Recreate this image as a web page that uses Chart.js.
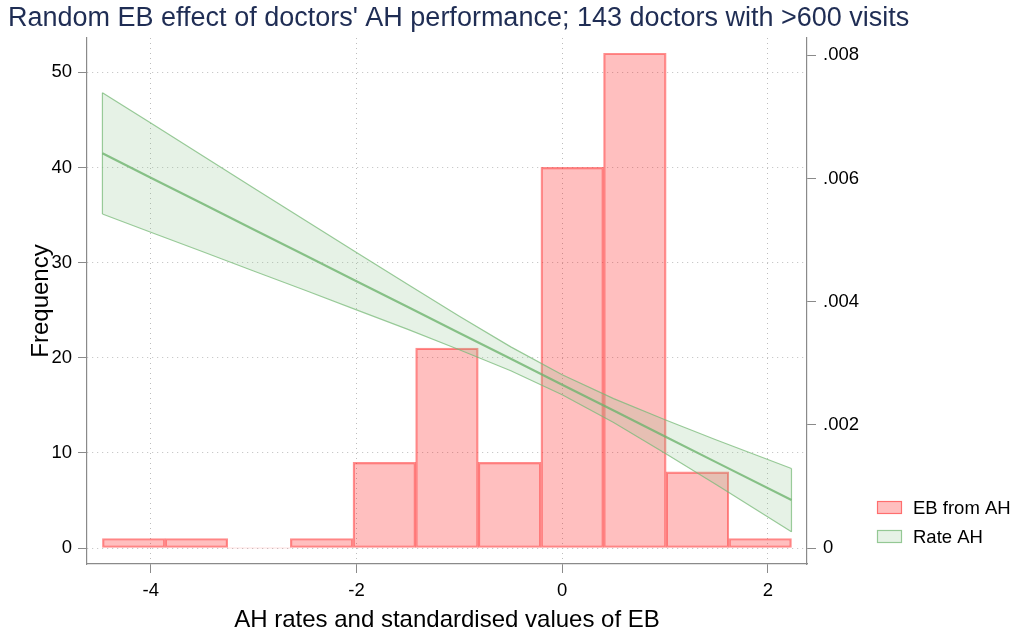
<!DOCTYPE html>
<html>
<head>
<meta charset="utf-8">
<script src="https://cdn.jsdelivr.net/npm/chart.js@4.4.1/dist/chart.umd.min.js"></script>
<style>
  html, body { margin: 0; padding: 0; background: #fff; }
  #wrap { width: 1015px; height: 632px; }
</style>
</head>
<body>
<div id="wrap"><canvas id="histChart" width="1015" height="632"></canvas></div>
<script>
// histogram of standardised EB values (bin edges)
const binEdges = [-4.47, -3.861, -3.252, -2.643, -2.034, -1.425, -0.816, -0.207, 0.402, 1.011, 1.62, 2.229];
const binCounts = [1, 1, 0, 1, 9, 21, 9, 40, 52, 8, 1];

// linear fit of AH rate with its confidence band (right axis)
const fitX = [-4.47, -4, -3.5, -3, -2.5, -2, -1.5, -1, -0.5, 0, 0.5, 1, 1.5, 2.229];
const fitLine = [0.006408, 0.006013, 0.005594, 0.005172, 0.004753, 0.004332, 0.003913, 0.003491, 0.003072, 0.002651, 0.002232, 0.001811, 0.001391, 0.000779];
const fitUpper = [0.007393, 0.006899, 0.006373, 0.005846, 0.005321, 0.004797, 0.004277, 0.003763, 0.003266, 0.002813, 0.002426, 0.002083, 0.001755, 0.001292];
const fitLower = [0.005423, 0.005127, 0.004815, 0.004498, 0.004185, 0.003867, 0.003549, 0.003219, 0.002878, 0.002489, 0.002038, 0.001539, 0.001027, 0.000266];

// tick labels
const xTicks = [-4, -2, 0, 2];
const leftTicks = [0, 10, 20, 30, 40, 50];
const rightTicks = [0, 0.002, 0.004, 0.006, 0.008];
const rightTickLabels = ['0', '.002', '.004', '.006', '.008'];

const FONT = '"Liberation Sans", Helvetica, Arial, sans-serif';
const barFill = 'rgba(255, 0, 0, 0.25)';
const barLine = 'rgba(255, 30, 30, 0.5)';
const bandFill = 'rgba(130, 190, 130, 0.2)';
const bandLine = 'rgba(120, 185, 120, 0.75)';
const fitColor = 'rgba(110, 180, 110, 0.8)';
const gridCol = '#bdbdbd';
const axisCol = '#8a8a8a';

const barData = binCounts.map((c, i) => ({ x: (binEdges[i] + binEdges[i + 1]) / 2, y: c }));
const pts = (ys) => fitX.map((x, i) => ({ x: x, y: ys[i] }));
const last = fitX.length - 1;

// little legend at the lower right, like the stata one
const sideLegend = {
  id: 'sideLegend',
  afterDraw(chart) {
    const ctx = chart.ctx;
    const items = [
      { text: chart.data.datasets[0].label, fill: barFill, stroke: barLine },
      { text: chart.data.datasets[1].label, fill: bandFill, stroke: bandLine }
    ];
    ctx.save();
    ctx.font = '18.5px ' + FONT;
    ctx.textBaseline = 'middle';
    ctx.textAlign = 'left';
    items.forEach((it, i) => {
      const y = 501 + i * 29;
      ctx.fillStyle = it.fill;
      ctx.fillRect(877, y, 25, 13);
      ctx.strokeStyle = it.stroke;
      ctx.lineWidth = 1.2;
      ctx.strokeRect(877.5, y + 0.5, 24, 12);
      ctx.fillStyle = '#000';
      ctx.fillText(it.text, 913, y + 8);
    });
    ctx.restore();
  }
};

const ctx = document.getElementById('histChart').getContext('2d');
const myChart = new Chart(ctx, {
  type: 'bar',
  data: {
    datasets: [
      {
        label: 'EB from AH',
        data: barData,
        backgroundColor: barFill,
        borderColor: barLine,
        borderWidth: (c) => (c.raw && c.raw.y === 0 ? 0 : 1.5),
        borderSkipped: false,
        barPercentage: 1,
        categoryPercentage: 1,
        yAxisID: 'y',
        order: 10
      },
      {
        type: 'line',
        label: 'Rate AH',
        data: pts(fitUpper),
        borderColor: bandLine,
        borderWidth: 1.2,
        backgroundColor: bandFill,
        fill: '+1',
        pointRadius: 0,
        tension: 0,
        yAxisID: 'y2',
        order: 1
      },
      {
        type: 'line',
        label: 'lower',
        data: pts(fitLower),
        borderColor: bandLine,
        borderWidth: 1.2,
        fill: false,
        pointRadius: 0,
        yAxisID: 'y2',
        order: 1
      },
      {
        type: 'line',
        label: 'fit',
        data: pts(fitLine),
        borderColor: fitColor,
        borderWidth: 2.2,
        fill: false,
        pointRadius: 0,
        yAxisID: 'y2',
        order: 0
      },
      {
        type: 'line',
        label: 'capL',
        data: [{ x: fitX[0], y: fitUpper[0] }, { x: fitX[0], y: fitLower[0] }],
        borderColor: bandLine,
        borderWidth: 1.2,
        fill: false,
        pointRadius: 0,
        yAxisID: 'y2',
        order: 1
      },
      {
        type: 'line',
        label: 'capR',
        data: [{ x: fitX[last], y: fitUpper[last] }, { x: fitX[last], y: fitLower[last] }],
        borderColor: bandLine,
        borderWidth: 1.2,
        fill: false,
        pointRadius: 0,
        yAxisID: 'y2',
        order: 1
      }
    ]
  },
  options: {
    responsive: false,
    animation: false,
    layout: { padding: { left: 8, right: 0, top: 0, bottom: 0 } },
    plugins: {
      legend: { display: false },
      tooltip: { enabled: false },
      title: {
        display: true,
        text: "Random EB effect of doctors' AH performance; 143 doctors with >600 visits",
        align: 'start',
        color: '#1f2d54',
        font: { family: FONT, size: 27, weight: 'normal', lineHeight: 1.2 },
        padding: { top: 2.3, bottom: 3.3 }
      }
    },
    scales: {
      x: {
        type: 'linear',
        min: -4.62,
        max: 2.38,
        offset: false,
        afterBuildTicks: (s) => { s.ticks = xTicks.map(v => ({ value: v })); },
        afterFit: (s) => { s.height = 68; },
        grid: {
          offset: false,
          color: gridCol,
          lineWidth: 1,
          tickLength: 9,
          tickColor: axisCol,
          tickBorderDash: []
        },
        border: { display: true, color: axisCol, width: 1.2, dash: [1, 4] },
        ticks: { color: '#000', padding: 7, font: { family: FONT, size: 18.5 } },
        title: {
          display: true,
          text: 'AH rates and standardised values of EB',
          color: '#000',
          font: { family: FONT, size: 24, lineHeight: 1 },
          padding: { top: 0, bottom: 0 }
        }
      },
      y: {
        position: 'left',
        min: -1.68,
        max: 53.6,
        afterBuildTicks: (s) => { s.ticks = leftTicks.map(v => ({ value: v })); },
        afterFit: (s) => { s.width = 79; },
        grid: {
          color: gridCol,
          lineWidth: 1,
          tickLength: 9,
          tickColor: axisCol,
          tickBorderDash: []
        },
        border: { display: true, color: axisCol, width: 1.2, dash: [1, 4] },
        ticks: { color: '#000', padding: 6, font: { family: FONT, size: 18.5 } },
        title: {
          display: true,
          text: 'Frequency',
          color: '#000',
          font: { family: FONT, size: 24, lineHeight: 1 },
          padding: { top: 21, bottom: 0 }
        }
      },
      y2: {
        position: 'right',
        min: -0.000259,
        max: 0.00828,
        afterBuildTicks: (s) => { s.ticks = rightTicks.map(v => ({ value: v })); },
        // wide enough to leave room for the legend on the right
        afterFit: (s) => { s.width = 208; },
        grid: {
          drawOnChartArea: false,
          tickLength: 9,
          tickColor: axisCol,
          tickBorderDash: []
        },
        border: { display: true, color: axisCol, width: 1.2 },
        ticks: {
          color: '#000',
          padding: 7,
          font: { family: FONT, size: 18.5 },
          callback: (v) => {
            const i = rightTicks.findIndex(t => Math.abs(t - v) < 1e-9);
            return i >= 0 ? rightTickLabels[i] : '';
          }
        }
      }
    }
  },
  plugins: [sideLegend]
});
</script>
</body>
</html>
